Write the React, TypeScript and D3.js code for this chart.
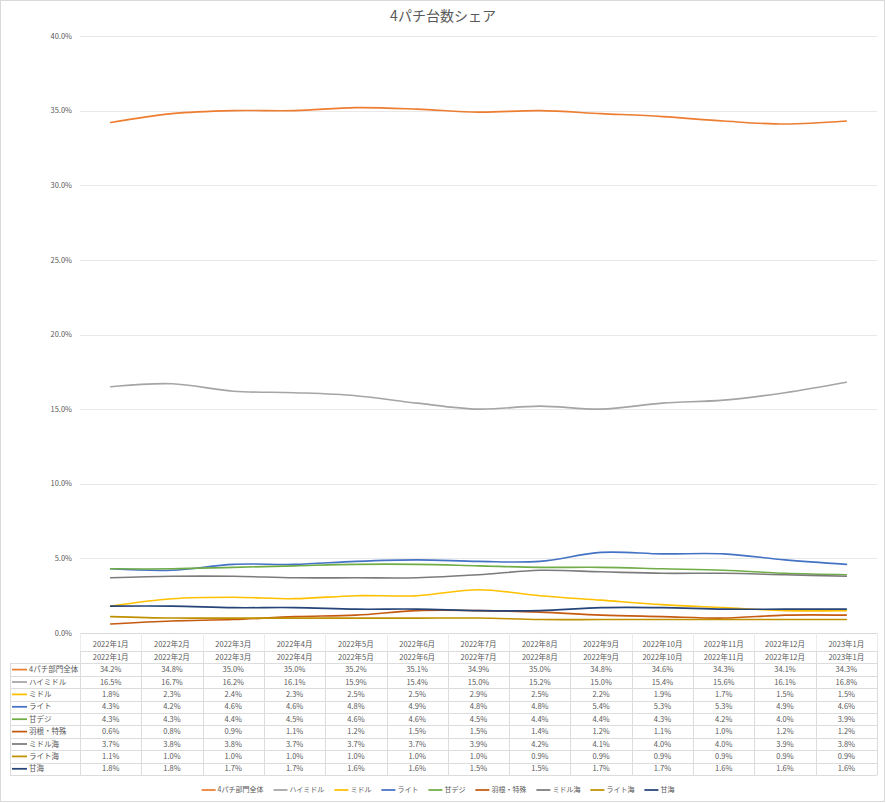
import React, { useEffect, useRef } from "react";
import * as d3 from "d3";

const categories = [
  "2022年1月", "2022年2月", "2022年3月", "2022年4月", "2022年5月", "2022年6月", "2022年7月",
  "2022年8月", "2022年9月", "2022年10月", "2022年11月", "2022年12月", "2023年1月",
];

const seriesNames = [
  "4パチ部門全体", "ハイミドル", "ミドル", "ライト", "甘デジ", "羽根・特殊", "ミドル海", "ライト海", "甘海",
];

const seriesColors = [
  "#ED7D31", "#A5A5A5", "#FFC000", "#4472C4", "#70AD47", "#C55A11", "#7B7B7B", "#BF9000", "#264478",
];

const total4 = [34.2, 34.8, 35.0, 35.0, 35.2, 35.1, 34.9, 35.0, 34.8, 34.6, 34.3, 34.1, 34.3];
const highMiddle = [16.5, 16.7, 16.2, 16.1, 15.9, 15.4, 15.0, 15.2, 15.0, 15.4, 15.6, 16.1, 16.8];
const middle = [1.8, 2.3, 2.4, 2.3, 2.5, 2.5, 2.9, 2.5, 2.2, 1.9, 1.7, 1.5, 1.5];
const light = [4.3, 4.2, 4.6, 4.6, 4.8, 4.9, 4.8, 4.8, 5.4, 5.3, 5.3, 4.9, 4.6];
const amaDigi = [4.3, 4.3, 4.4, 4.5, 4.6, 4.6, 4.5, 4.4, 4.4, 4.3, 4.2, 4.0, 3.9];
const haneSpecial = [0.6, 0.8, 0.9, 1.1, 1.2, 1.5, 1.5, 1.4, 1.2, 1.1, 1.0, 1.2, 1.2];
const middleUmi = [3.7, 3.8, 3.8, 3.7, 3.7, 3.7, 3.9, 4.2, 4.1, 4.0, 4.0, 3.9, 3.8];
const lightUmi = [1.1, 1.0, 1.0, 1.0, 1.0, 1.0, 1.0, 0.9, 0.9, 0.9, 0.9, 0.9, 0.9];
const amaUmi = [1.8, 1.8, 1.7, 1.7, 1.6, 1.6, 1.5, 1.5, 1.7, 1.7, 1.6, 1.6, 1.6];

const seriesValues = [total4, highMiddle, middle, light, amaDigi, haneSpecial, middleUmi, lightUmi, amaUmi];

const yTicks = [0, 5, 10, 15, 20, 25, 30, 35, 40];

const W = 886;
const H = 803;
const FONT = "'Noto Sans CJK JP', 'Noto Sans', sans-serif";
const TEXT = "#595959";
const GRID = "#e9e9e9";
const TABLE = "#dcdcdc";

export default function App() {
  const ref = useRef<SVGSVGElement | null>(null);

  useEffect(() => {
    const svg = d3.select(ref.current);
    svg.selectAll("*").remove();

    svg.append("rect").attr("x", 0).attr("y", 0).attr("width", W).attr("height", H).attr("fill", "#fff");
    svg.append("rect").attr("x", 0.5).attr("y", 0.5).attr("width", W - 2).attr("height", H - 2)
      .attr("fill", "none").attr("stroke", "#d9d9d9").attr("stroke-width", 1);

    const plotLeft = 80;
    const plotRight = 877;
    const plotTop = 36;
    const plotBottom = 633;

    const x = d3.scaleBand<string>().domain(categories).range([plotLeft, plotRight]).padding(0);
    const y = d3.scaleLinear().domain([0, 40]).range([plotBottom, plotTop]);
    const cx = (c: string) => (x(c) as number) + x.bandwidth() / 2;

    // title
    svg.append("text").attr("x", 443).attr("y", 21).attr("text-anchor", "middle")
      .attr("font-family", FONT).attr("font-size", 14).attr("fill", TEXT).text("4パチ台数シェア");

    // grid
    const g = svg.append("g");
    g.selectAll("line.grid").data(yTicks).enter().append("line")
      .attr("x1", plotLeft).attr("x2", plotRight)
      .attr("y1", (d) => Math.round(y(d)) + 0.5).attr("y2", (d) => Math.round(y(d)) + 0.5)
      .attr("stroke", (d) => (d === 0 ? "#d9d9d9" : GRID)).attr("stroke-width", 1);

    g.selectAll("text.ytick").data(yTicks).enter().append("text")
      .attr("x", 72).attr("y", (d) => y(d)).attr("dy", "0.35em").attr("text-anchor", "end")
      .attr("font-family", FONT).attr("font-size", 7.5).attr("fill", TEXT)
      .text((d) => d3.format(".1f")(d) + "%");

    // category axis labels row
    const axisRowTop = plotBottom;
    const headerTop = 651;
    const rowH = 12.4;
    const bodyTop = headerTop + rowH;
    const tableBottom = bodyTop + rowH * seriesNames.length;

    const bounds = categories.map((c) => x(c) as number).concat([plotRight]);
    g.selectAll("line.tick").data(bounds).enter().append("line")
      .attr("x1", (d) => Math.round(d) + 0.5).attr("x2", (d) => Math.round(d) + 0.5)
      .attr("y1", axisRowTop).attr("y2", headerTop)
      .attr("stroke", "#ececec").attr("stroke-width", 1);

    g.selectAll("text.cat").data(categories).enter().append("text")
      .attr("x", (d) => cx(d)).attr("y", 644).attr("dy", "0.35em").attr("text-anchor", "middle")
      .attr("font-family", FONT).attr("font-size", 7.5).attr("fill", TEXT).text((d) => d);

    // table
    const t = svg.append("g");
    t.append("line").attr("x1", plotLeft).attr("x2", plotRight)
      .attr("y1", headerTop + 0.5).attr("y2", headerTop + 0.5).attr("stroke", TABLE);
    const rowLines = d3.range(seriesNames.length + 1).map((i) => bodyTop + i * rowH);
    t.selectAll("line.row").data(rowLines).enter().append("line")
      .attr("x1", 10).attr("x2", plotRight)
      .attr("y1", (d) => Math.round(d) + 0.5).attr("y2", (d) => Math.round(d) + 0.5)
      .attr("stroke", TABLE);
    t.selectAll("line.col").data(bounds).enter().append("line")
      .attr("x1", (d) => Math.round(d) + 0.5).attr("x2", (d) => Math.round(d) + 0.5)
      .attr("y1", headerTop).attr("y2", tableBottom)
      .attr("stroke", TABLE);
    t.append("line").attr("x1", 10.5).attr("x2", 10.5).attr("y1", bodyTop).attr("y2", tableBottom).attr("stroke", TABLE);

    t.selectAll("text.hdr").data(categories).enter().append("text")
      .attr("x", (d) => cx(d)).attr("y", headerTop + rowH / 2).attr("dy", "0.35em").attr("text-anchor", "middle")
      .attr("font-family", FONT).attr("font-size", 7.5).attr("fill", TEXT).text((d) => d);

    seriesNames.forEach((name, i) => {
      const yc = bodyTop + rowH * i + rowH / 2;
      t.append("line").attr("x1", 12).attr("x2", 27).attr("y1", yc).attr("y2", yc)
        .attr("stroke", seriesColors[i]).attr("stroke-width", 1.75);
      t.append("text").attr("x", 29).attr("y", yc).attr("dy", "0.35em")
        .attr("font-family", FONT).attr("font-size", 7.5).attr("fill", TEXT).text(name);
      t.selectAll(`text.v${i}`).data(seriesValues[i]).enter().append("text")
        .attr("x", (_d, j) => cx(categories[j])).attr("y", yc).attr("dy", "0.35em").attr("text-anchor", "middle")
        .attr("font-family", FONT).attr("font-size", 7.5).attr("fill", TEXT)
        .text((d) => d3.format(".1f")(d) + "%");
    });

    // lines
    const line = d3.line<number>()
      .x((_d, j) => cx(categories[j]))
      .y((d) => y(d))
      .curve(d3.curveCatmullRom.alpha(0.5));
    const lg = svg.append("g");
    seriesValues.forEach((vals, i) => {
      lg.append("path").attr("d", line(vals) as string).attr("fill", "none")
        .attr("stroke", seriesColors[i]).attr("stroke-width", 1.6).attr("stroke-linecap", "round");
    });

    // legend
    const leg = svg.append("g");
    const items = seriesNames.map((name, i) => {
      const gi = leg.append("g");
      gi.append("line").attr("x1", 0).attr("x2", 14).attr("y1", 0).attr("y2", 0)
        .attr("stroke", seriesColors[i]).attr("stroke-width", 1.75);
      const tx = gi.append("text").attr("x", 16).attr("y", 0).attr("dy", "0.35em")
        .attr("font-family", FONT).attr("font-size", 7).attr("fill", TEXT).text(name);
      const w = 16 + (tx.node() as SVGTextElement).getComputedTextLength();
      return { gi, w };
    });
    const gap = 10;
    const totalW = d3.sum(items, (d) => d.w) + gap * (items.length - 1);
    let lx = 438 - totalW / 2;
    items.forEach((it) => {
      it.gi.attr("transform", `translate(${lx},790)`);
      lx += it.w + gap;
    });
  }, []);

  return (
    <div style={{ position: "absolute", left: 0, top: 0 }}>
      <svg ref={ref} width={W} height={H} style={{ display: "block" }} />
    </div>
  );
}
